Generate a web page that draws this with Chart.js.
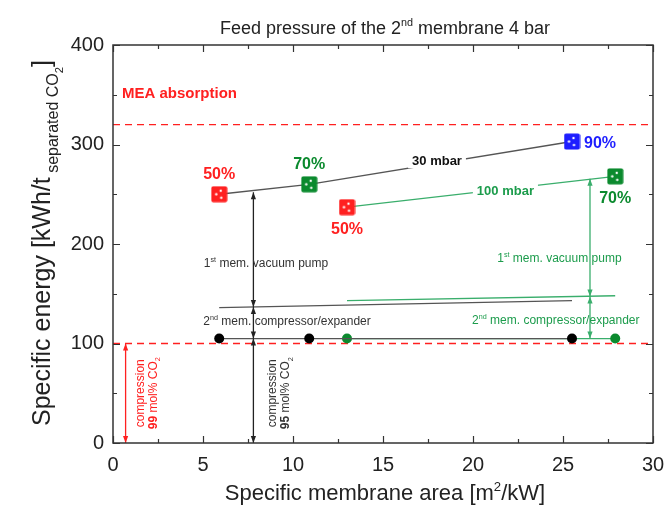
<!DOCTYPE html>
<html lang="en">
<head>
<meta charset="UTF-8">
<title>Specific energy vs. specific membrane area</title>
<script src="https://cdn.jsdelivr.net/npm/chart.js"></script>
<style>
    html, body { margin: 0; padding: 0; background: #fff; }
    #wrap { width: 666px; height: 507px; }
</style>
</head>
<body>
<div id="wrap"><canvas id="energyChart" width="666" height="507"></canvas></div>
<script>
    const FONT = '"Liberation Sans", Arial, Helvetica, sans-serif';
    const RED = '#ff2020';
    const GREEN = '#0b8a2e';
    const GREEN_LINE = '#3aae6c';
    const GREEN_TEXT = '#1c9c4c';
    const BLUE = '#1e1eff';
    const GRAY = '#555555';

    // axis ticks
    const xTicks = [0, 5, 10, 15, 20, 25, 30];
    const yTicks = [0, 100, 200, 300, 400];

    // permeate pressure 30 mbar, CO2 recovery 50 / 70 / 90 %
    const area30 = [5.9, 10.9, 25.5];
    const energy30 = [250, 260, 303];
    const recovery30 = ['50%', '70%', '90%'];
    const place30 = ['above', 'above', 'right'];
    // level reached after the 2nd membrane compressor/expander
    const split30 = [136, 143];

    // permeate pressure 100 mbar, CO2 recovery 50 / 70 %
    const area100 = [13, 27.9];
    const energy100 = [237, 268];
    const recovery100 = ['50%', '70%'];
    const place100 = ['below', 'below'];
    const split100 = [143, 148];

    // compression of the product stream to 95 mol% CO2
    const compression95 = 105;
    // reference levels: MEA absorption, compression to 99 mol% CO2
    const meaLevel = 320;
    const compression99 = 100;

    const recoveryColor = { '50%': RED, '70%': GREEN, '90%': BLUE };

    // energy contribution arrows: x, from, to
    const arrows = [
        { x: 0.7, from: 0, to: 100, color: RED },
        { x: 7.8, from: 0, to: 105, color: '#222' },
        { x: 7.8, from: 105, to: 136.8, color: '#222' },
        { x: 7.8, from: 136.8, to: 252, color: '#222' },
        { x: 26.5, from: 105, to: 147.3, color: GREEN_LINE },
        { x: 26.5, from: 147.3, to: 265.6, color: GREEN_LINE }
    ];

    // text placed in data coordinates
    const notes = [
        { x: 0.5, y: 352, align: 'left', size: 15, weight: 'bold', color: RED, parts: [['MEA absorption', 'n']] },
        { x: 18.0, y: 284, size: 13, weight: 'bold', color: '#111', bg: true, parts: [['30 mbar', 'n']] },
        { x: 21.8, y: 254, size: 13, weight: 'bold', color: GREEN_TEXT, bg: true, parts: [['100 mbar', 'n']] },
        { x: 8.5, y: 181, size: 12, color: '#333', parts: [['1', 'n'], ['st', 'sup'], [' mem. vacuum pump', 'n']] },
        { x: 9.67, y: 122.6, size: 12, color: '#333', parts: [['2', 'n'], ['nd', 'sup'], [' mem. compressor/expander', 'n']] },
        { x: 24.8, y: 186, size: 12, color: GREEN_TEXT, parts: [['1', 'n'], ['st', 'sup'], [' mem. vacuum pump', 'n']] },
        { x: 24.6, y: 123.6, size: 12, color: GREEN_TEXT, parts: [['2', 'n'], ['nd', 'sup'], [' mem. compressor/expander', 'n']] }
    ];
    // vertical text next to the compression arrows
    const sideNotes = [
        { x: 1.5, y: 50, color: RED, parts: [['compression', 'n']] },
        { x: 2.2, y: 50, color: RED, parts: [['99', 'n', 'bold'], [' mol% CO', 'n'], ['2', 'sub']] },
        { x: 8.83, y: 50, color: '#333', parts: [['compression', 'n']] },
        { x: 9.56, y: 50, color: '#333', parts: [['95', 'n', 'bold'], [' mol% CO', 'n'], ['2', 'sub']] }
    ];

    // size / baseline shift of normal, superscript and subscript runs
    const KIND = { n: [1, 0], sup: [0.6, -0.42], sub: [0.6, 0.28], ysub: [0.64, 0.3], sub2: [0.45, 0.5] };

    function runFont(size, kind, weight) {
        return (weight || 'normal') + ' ' + (size * KIND[kind][0]).toFixed(2) + 'px ' + FONT;
    }

    function richWidth(ctx, parts, size, weight) {
        let w = 0;
        for (const p of parts) {
            ctx.font = runFont(size, p[1], p[2] || weight);
            w += ctx.measureText(p[0]).width;
        }
        return w;
    }

    // draws mixed normal/super/subscript text; y is the baseline
    function drawRich(ctx, parts, x, y, size, align, weight, color) {
        const w = richWidth(ctx, parts, size, weight);
        let cx = align === 'left' ? x : align === 'right' ? x - w : x - w / 2;
        ctx.fillStyle = color;
        ctx.textAlign = 'left';
        ctx.textBaseline = 'alphabetic';
        for (const p of parts) {
            ctx.font = runFont(size, p[1], p[2] || weight);
            ctx.fillText(p[0], cx, y + KIND[p[1]][1] * size);
            cx += ctx.measureText(p[0]).width;
        }
        return w;
    }

    function squareMarker(color) {
        const c = document.createElement('canvas');
        c.width = 17;
        c.height = 17;
        const g = c.getContext('2d');
        g.fillStyle = color;
        g.beginPath();
        g.roundRect(0.5, 0.5, 16, 16, 2);
        g.fill();
        g.fillStyle = '#fff';
        for (const [dx, dy] of [[10, 5], [5.5, 8.5], [10.5, 12]]) {
            g.beginPath();
            g.arc(dx, dy, 1.2, 0, Math.PI * 2);
            g.fill();
        }
        return c;
    }

    const points = (xs, ys) => xs.map((x, i) => ({ x, y: Array.isArray(ys) ? ys[i] : ys }));
    const ends = (xs, ys) => [{ x: xs[0], y: ys[0] }, { x: xs[xs.length - 1], y: ys[ys.length - 1] }];

    const line = (data, color, extra) => Object.assign({
        data, showLine: true, borderColor: color, borderWidth: 1.3,
        pointRadius: 0, fill: false, tension: 0
    }, extra);

    const datasets = [
        line([{ x: 0, y: meaLevel }, { x: 30, y: meaLevel }], RED, { borderDash: [7, 5], order: 6 }),
        line([{ x: 0, y: compression99 }, { x: 30, y: compression99 }], RED, { borderDash: [7, 5], order: 6 }),
        line(ends(area30, split30), GRAY, { order: 5 }),
        line(ends(area100, split100), GREEN_LINE, { order: 5 }),
        line(points(area100, compression95), GREEN_LINE, {
            order: 4, pointRadius: 5, pointBackgroundColor: GREEN, pointBorderColor: GREEN, pointBorderWidth: 0
        }),
        line(points(area30, compression95), GRAY, {
            order: 3, pointRadius: 5, pointBackgroundColor: '#000', pointBorderColor: '#000', pointBorderWidth: 0
        }),
        line(points(area100, energy100), GREEN_LINE, {
            order: 2, pointRadius: 8, pointStyle: recovery100.map(r => squareMarker(recoveryColor[r]))
        }),
        line(points(area30, energy30), GRAY, {
            order: 1, pointRadius: 8, pointStyle: recovery30.map(r => squareMarker(recoveryColor[r]))
        })
    ];

    function minorValues(ticks) {
        const out = [];
        for (let i = 0; i < ticks.length - 1; i++) out.push((ticks[i] + ticks[i + 1]) / 2);
        return out;
    }

    const decorations = {
        id: 'decorations',
        afterDatasetsDraw(chart) {
            const { ctx, chartArea: a, scales: { x, y } } = chart;
            ctx.save();

            // arrows
            for (const ar of arrows) {
                const px = x.getPixelForValue(ar.x);
                const p0 = y.getPixelForValue(ar.from);
                const p1 = y.getPixelForValue(ar.to);
                ctx.strokeStyle = ar.color;
                ctx.fillStyle = ar.color;
                ctx.lineWidth = 1.3;
                ctx.beginPath();
                ctx.moveTo(px, p0);
                ctx.lineTo(px, p1);
                ctx.stroke();
                ctx.beginPath();
                ctx.moveTo(px, p1);
                ctx.lineTo(px - 2.6, p1 + 7);
                ctx.lineTo(px + 2.6, p1 + 7);
                ctx.closePath();
                ctx.moveTo(px, p0);
                ctx.lineTo(px - 2.6, p0 - 7);
                ctx.lineTo(px + 2.6, p0 - 7);
                ctx.closePath();
                ctx.fill();
            }

            // recovery labels at the square markers
            const recLabels = (xs, ys, labels, place) => {
                labels.forEach((lab, i) => {
                    const px = x.getPixelForValue(xs[i]);
                    const py = y.getPixelForValue(ys[i]);
                    const color = recoveryColor[lab];
                    if (place[i] === 'above') drawRich(ctx, [[lab, 'n']], px, py - 21 + 5.6, 16, 'center', 'bold', color);
                    else if (place[i] === 'below') drawRich(ctx, [[lab, 'n']], px, py + 21 + 5.6, 16, 'center', 'bold', color);
                    else drawRich(ctx, [[lab, 'n']], px + 12, py + 1 + 5.6, 16, 'left', 'bold', color);
                });
            };
            recLabels(area30, energy30, recovery30, place30);
            recLabels(area100, energy100, recovery100, place100);

            // annotations
            for (const n of notes) {
                const px = x.getPixelForValue(n.x);
                const py = y.getPixelForValue(n.y);
                const base = py + 0.35 * n.size;
                if (n.bg) {
                    const w = richWidth(ctx, n.parts, n.size, n.weight);
                    ctx.fillStyle = '#fff';
                    ctx.fillRect(px - w / 2 - 4, py - n.size * 0.6, w + 8, n.size * 1.2);
                }
                drawRich(ctx, n.parts, px, base, n.size, n.align || 'center', n.weight, n.color);
            }
            for (const n of sideNotes) {
                ctx.save();
                ctx.translate(x.getPixelForValue(n.x), y.getPixelForValue(n.y));
                ctx.rotate(-Math.PI / 2);
                drawRich(ctx, n.parts, 0, 12 * 0.35, 12, 'center', 'normal', n.color);
                ctx.restore();
            }

            // frame with inward ticks on all four sides
            ctx.strokeStyle = '#333';
            ctx.lineWidth = 1.5;
            ctx.strokeRect(a.left, a.top, a.right - a.left, a.bottom - a.top);
            ctx.lineWidth = 1.2;
            ctx.beginPath();
            const xMarks = xTicks.map(v => [v, 7]).concat(minorValues(xTicks).map(v => [v, 4]));
            for (const [v, len] of xMarks) {
                const px = Math.round(x.getPixelForValue(v)) + 0.5;
                ctx.moveTo(px, a.bottom); ctx.lineTo(px, a.bottom - len);
                ctx.moveTo(px, a.top); ctx.lineTo(px, a.top + len);
            }
            const yMarks = yTicks.map(v => [v, 7]).concat(minorValues(yTicks).map(v => [v, 4]));
            for (const [v, len] of yMarks) {
                const py = Math.round(y.getPixelForValue(v)) + 0.5;
                ctx.moveTo(a.left, py); ctx.lineTo(a.left + len, py);
                ctx.moveTo(a.right, py); ctx.lineTo(a.right - len, py);
            }
            ctx.stroke();

            // titles
            const midX = (a.left + a.right) / 2;
            drawRich(ctx, [['Feed pressure of the 2', 'n'], ['nd', 'sup'], [' membrane 4 bar', 'n']],
                midX + 2, 34, 18, 'center', 'normal', '#222');
            drawRich(ctx, [['Specific membrane area [m', 'n'], ['2', 'sup'], ['/kW]', 'n']],
                midX + 2, 500, 22, 'center', 'normal', '#222');
            ctx.save();
            ctx.translate(50, 243);
            ctx.rotate(-Math.PI / 2);
            drawRich(ctx, [['Specific energy [kWh/t', 'n'], [' separated CO', 'ysub'], ['2', 'sub2'], [']', 'n']],
                0, 0, 25, 'center', 'normal', '#222');
            ctx.restore();

            ctx.restore();
        }
    };

    new Chart(document.getElementById('energyChart'), {
        type: 'scatter',
        data: { datasets },
        options: {
            responsive: false,
            animation: false,
            layout: { padding: { top: 45, right: 13, left: 0, bottom: 0 } },
            plugins: { legend: { display: false }, tooltip: { enabled: false } },
            scales: {
                x: {
                    type: 'linear', min: 0, max: 30,
                    grid: { display: false, drawTicks: false },
                    border: { display: false },
                    afterBuildTicks: s => { s.ticks = xTicks.map(v => ({ value: v })); },
                    afterFit: s => { s.height = 64; s.paddingLeft = 0; s.paddingRight = 0; },
                    ticks: { font: { size: 20, family: FONT }, color: '#222', padding: 10, maxRotation: 0, autoSkip: false }
                },
                y: {
                    type: 'linear', min: 0, max: 400,
                    grid: { display: false, drawTicks: false },
                    border: { display: false },
                    afterBuildTicks: s => { s.ticks = yTicks.map(v => ({ value: v })); },
                    afterFit: s => { s.width = 113; s.paddingTop = 0; s.paddingBottom = 0; },
                    ticks: { font: { size: 20, family: FONT }, color: '#222', padding: 9, autoSkip: false }
                }
            }
        },
        plugins: [decorations]
    });
</script>
</body>
</html>
